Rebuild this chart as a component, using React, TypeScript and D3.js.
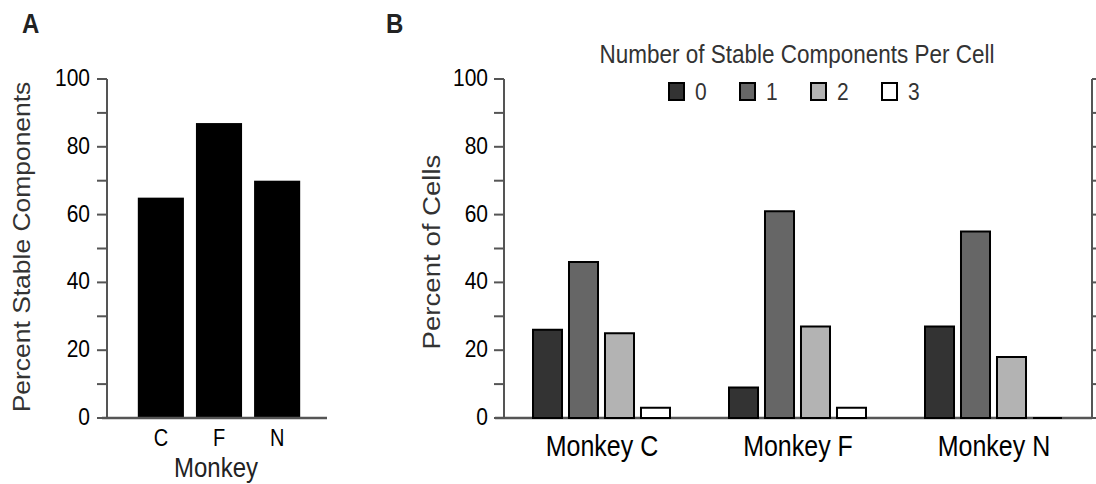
import React from "react";
import * as d3 from "d3";

const monkeysA = ["C", "F", "N"];
const stableA = [65, 87, 70];

const groupsB = ["Monkey C", "Monkey F", "Monkey N"];
const seriesB = ["0", "1", "2", "3"];
const valuesB = [
  [26, 46, 25, 3],
  [9, 61, 27, 3],
  [27, 55, 18, 0],
];
const fillsB = ["#333333", "#666666", "#b3b3b3", "#ffffff"];
const tickValues = [0, 20, 40, 60, 80, 100];
const minorTicks = d3.range(0, 101, 10);

const FONT = "'Liberation Sans', Arial, Helvetica, sans-serif";
const AXIS = "#555";
const SY = 1.15;

type TProps = {
  x: number;
  y: number;
  size: number;
  anchor?: string;
  fill?: string;
  weight?: string;
  rotate?: boolean;
  children: React.ReactNode;
};

function T({ x, y, size, anchor = "start", fill = "#000", weight = "normal", rotate = false, children }: TProps) {
  const tf = `translate(${x},${y}) scale(1,${SY})${rotate ? " rotate(-90)" : ""}`;
  return (
    <text transform={tf} textAnchor={anchor} fontSize={size} fill={fill} fontWeight={weight}>
      {children}
    </text>
  );
}

function barPath(x: number, w: number, yTop: number, yBase: number) {
  const p = d3.path();
  p.moveTo(x, yBase);
  p.lineTo(x, yTop);
  p.lineTo(x + w, yTop);
  p.lineTo(x + w, yBase);
  p.closePath();
  return p.toString();
}

export default function App() {
  const y = d3.scaleLinear().domain([0, 100]).range([418, 79]);

  // Panel A
  const axA = 107;
  const xA = d3.scaleBand().domain(monkeysA).range([132, 306]).paddingInner(0.2069).paddingOuter(0.1);

  // Panel B
  const axB = 504;
  const axBR = 1092;
  const xB = d3.scaleBand().domain(groupsB).range([axB, axBR]).padding(0);
  const xInner = d3.scaleBand().domain(seriesB).range([29, 166]).paddingInner(0.194);

  const legendX = d3.scalePoint().domain(seriesB).range([669, 882]);

  return (
    <div style={{ position: "fixed", left: 0, top: 0 }}>
      <svg width={1096} height={484} style={{ display: "block", fontFamily: FONT }}>
        <rect width={1096} height={484} fill="#fff" />
        {/* Panel labels */}
        <T x={22} y={33} size={24} weight="bold" fill="#222">A</T>
        <T x={386} y={33} size={24} weight="bold" fill="#222">B</T>

        {/* ---------- Panel A ---------- */}
        {stableA.map((v, i) => (
          <rect key={i} x={xA(monkeysA[i])} y={y(v)} width={xA.bandwidth()} height={y(0) - y(v)} fill="#000" />
        ))}
        <line x1={axA} x2={axA} y1={y(100)} y2={y(0)} stroke={AXIS} strokeWidth={2} />
        {minorTicks.map((t) => (
          <line key={t} x1={axA - 10} x2={axA} y1={y(t)} y2={y(t)} stroke={AXIS} strokeWidth={2} />
        ))}
        {tickValues.map((t) => (
          <T key={t} x={axA - 17} y={y(t) + 7} size={21} anchor="end">{t}</T>
        ))}
        <line x1={102} x2={327} y1={y(0)} y2={y(0)} stroke={AXIS} strokeWidth={2.5} />
        {monkeysA.map((m) => (
          <T key={m} x={(xA(m) as number) + xA.bandwidth() / 2} y={446} size={20} anchor="middle">{m}</T>
        ))}
        <T x={216} y={477} size={24} anchor="middle" fill="#222">Monkey</T>
        <T x={30} y={247} size={23} anchor="middle" fill="#333" rotate>Percent Stable Components</T>

        {/* ---------- Panel B ---------- */}
        <T x={797} y={63} size={22.5} anchor="middle" fill="#333">Number of Stable Components Per Cell</T>
        {seriesB.map((s, i) => (
          <g key={s}>
            <rect x={legendX(s)} y={83} width={15} height={17} fill={fillsB[i]} stroke="#000" strokeWidth={2} />
            <T x={(legendX(s) as number) + 26} y={100} size={21} fill="#333">{s}</T>
          </g>
        ))}

        <line x1={axB} x2={axB} y1={y(100)} y2={y(0)} stroke={AXIS} strokeWidth={2} />
        <line x1={axBR} x2={axBR} y1={y(100)} y2={y(0)} stroke={AXIS} strokeWidth={2} />
        {minorTicks.map((t) => (
          <g key={t}>
            <line x1={axB - 10} x2={axB} y1={y(t)} y2={y(t)} stroke={AXIS} strokeWidth={2} />
            <line x1={axBR} x2={axBR + 8} y1={y(t)} y2={y(t)} stroke={AXIS} strokeWidth={2} />
          </g>
        ))}
        {tickValues.map((t) => (
          <T key={t} x={axB - 16} y={y(t) + 7} size={21} anchor="end">{t}</T>
        ))}
        <line x1={495} x2={axBR} y1={y(0)} y2={y(0)} stroke={AXIS} strokeWidth={2.5} />

        {valuesB.map((vals, gi) => (
          <g key={gi} transform={`translate(${xB(groupsB[gi])},0)`}>
            {vals.map((v, si) => (
              <path
                key={si}
                d={barPath(xInner(seriesB[si]) as number, xInner.bandwidth(), y(v), y(0))}
                fill={fillsB[si]}
                stroke="#000"
                strokeWidth={2}
              />
            ))}
          </g>
        ))}

        {groupsB.map((g) => (
          <T key={g} x={(xB(g) as number) + xB.bandwidth() / 2} y={456} size={25} anchor="middle">{g}</T>
        ))}
        <T x={440} y={252} size={24} anchor="middle" fill="#333" rotate>Percent of Cells</T>
      </svg>
    </div>
  );
}
